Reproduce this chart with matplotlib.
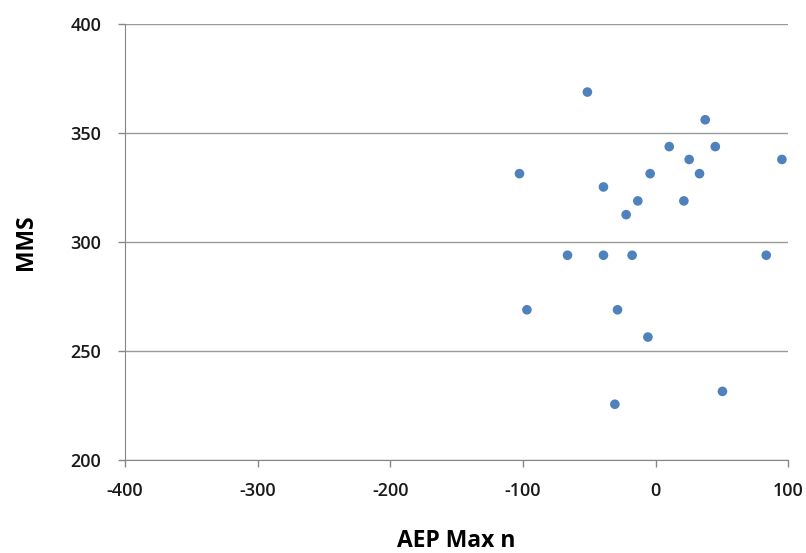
import matplotlib.pyplot as plt

# AEP Max n vs MMS
aep_max_n = [-51.4, 37.4, 10.3, 45.0, 25.3, 95.2, -102.6, -4.1, 33.1, -39.3, -13.4,
             21.3, -22.2, -66.4, -39.3, -17.7, 83.4, -97.0, -28.7, -5.8, 50.4, -30.7]
mms = [368.7, 356.0, 343.7, 343.7, 337.8, 337.8, 331.3, 331.3, 331.3, 325.2, 318.8,
       318.8, 312.5, 293.9, 293.9, 293.9, 293.9, 268.9, 268.9, 256.4, 231.5, 225.6]

x_ticks = [-400, -300, -200, -100, 0, 100]
y_ticks = [200, 250, 300, 350, 400]

plt.rcParams['font.family'] = ['Open Sans', 'DejaVu Sans']
plt.rcParams['axes.unicode_minus'] = False

fig = plt.figure(figsize=(8.06, 5.53), dpi=100)
ax = fig.add_axes([0.155, 0.168, 0.823, 0.789])

ax.scatter(aep_max_n, mms, s=48, color='#4F81BD', edgecolors='none', zorder=3)

ax.set_xlim(-400, 100)
ax.set_ylim(200, 400)
ax.set_xticks(x_ticks)
ax.set_yticks(y_ticks)
ax.tick_params(labelsize=13, colors='#868686', labelcolor='#1a1a1a', length=5, width=1)
for lab in ax.get_xticklabels() + ax.get_yticklabels():
    lab.set_fontweight('semibold')
ax.tick_params(axis='x', pad=11)
ax.tick_params(axis='y', pad=12)

ax.grid(axis='y', color='#9a9a9a', linewidth=1)
ax.set_axisbelow(True)
for s in ['top', 'right']:
    ax.spines[s].set_visible(False)
for s in ['left', 'bottom']:
    ax.spines[s].set_color('#868686')

ax.set_xlabel('AEP Max n', fontsize=16.5, fontweight='bold', labelpad=21)
ax.set_ylabel('MMS', fontsize=16.5, fontweight='bold', labelpad=23)

fig.savefig('out.png', dpi=100)
